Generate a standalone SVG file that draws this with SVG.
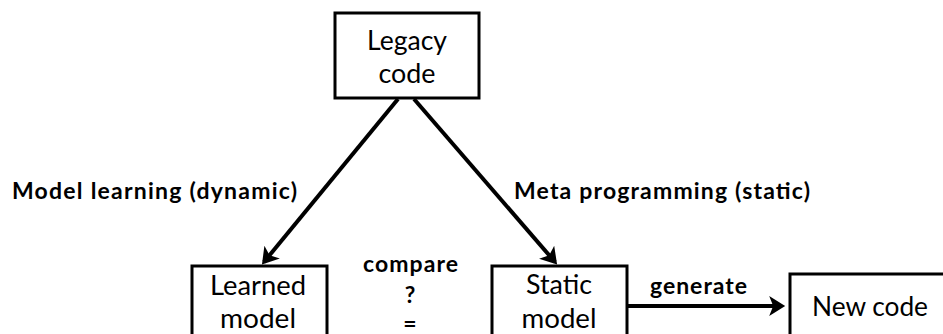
<svg xmlns="http://www.w3.org/2000/svg" width="943" height="334" viewBox="0 0 943 334">
<style>
.box{fill:#fff;stroke:#000;stroke-width:3}
.t{font-family:Lato,"Liberation Sans",sans-serif;font-size:26px;fill:#000;text-anchor:middle}
.l{font-family:Lato,"Liberation Sans",sans-serif;font-size:23px;font-weight:bold;fill:#000}
.c{stroke:#000;stroke-width:4;fill:none}
</style>
<defs>
<marker id="ah" markerWidth="5" markerHeight="5" refX="3.2" refY="2.5" orient="auto" markerUnits="strokeWidth">
<path d="M0,0 L4,2.5 L0,5 L1,2.5 Z" fill="#000"/>
</marker>
</defs>
<g id="connectors">
<line class="c" x1="398" y1="99" x2="264" y2="262" marker-end="url(#ah)"/>
<line class="c" x1="414" y1="99" x2="555" y2="262" marker-end="url(#ah)"/>
<line class="c" x1="628" y1="306" x2="782" y2="306" marker-end="url(#ah)"/>
<text class="l" x="12" y="199" textLength="285" lengthAdjust="spacing">Model learning (dynamic)</text>
<text class="l" x="514" y="199" textLength="296" lengthAdjust="spacing">Meta programming (static)</text>
<text class="l" x="650" y="294" textLength="97" lengthAdjust="spacing">generate</text>
</g>
<g id="legacy">
<rect class="box" x="335" y="13" width="144" height="85"/>
<text class="t" x="407" y="50" textLength="80" lengthAdjust="spacingAndGlyphs">Legacy</text>
<text class="t" x="407" y="83" textLength="57" lengthAdjust="spacingAndGlyphs">code</text>
</g>
<g id="learned">
<rect class="box" x="192" y="266" width="135" height="80"/>
<text class="t" x="258" y="295" textLength="96" lengthAdjust="spacingAndGlyphs">Learned</text>
<text class="t" x="258" y="328" textLength="76" lengthAdjust="spacingAndGlyphs">model</text>
</g>
<g id="compare">
<text class="l" x="363" y="272" textLength="95" lengthAdjust="spacing">compare</text>
<text class="l" x="410" y="303" text-anchor="middle">?</text>
<text class="l" x="410" y="332" text-anchor="middle">=</text>
</g>
<g id="static">
<rect class="box" x="492" y="266" width="135" height="80"/>
<text class="t" x="559" y="294" textLength="66" lengthAdjust="spacingAndGlyphs">Static</text>
<text class="t" x="559" y="328" textLength="75" lengthAdjust="spacingAndGlyphs">model</text>
</g>
<g id="newcode">
<rect class="box" x="790" y="274" width="170" height="80"/>
<text class="t" x="870" y="316" textLength="116" lengthAdjust="spacingAndGlyphs">New code</text>
</g>
</svg>
